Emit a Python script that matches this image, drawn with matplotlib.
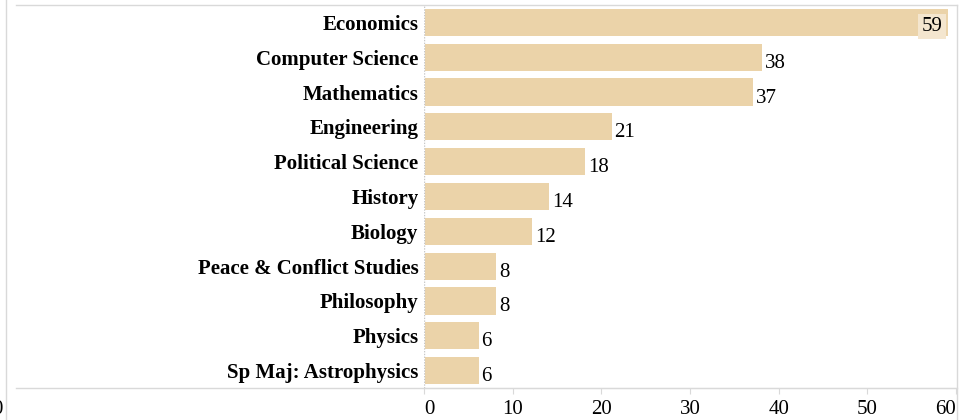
import matplotlib
matplotlib.use("Agg")
import matplotlib.pyplot as plt
from matplotlib.lines import Line2D

# --- data ---
majors = ["Economics", "Computer Science", "Mathematics", "Engineering",
          "Political Science", "History", "Biology", "Peace & Conflict Studies",
          "Philosophy", "Physics", "Sp Maj: Astrophysics"]
counts = [59, 38, 37, 21, 18, 14, 12, 8, 8, 6, 6]
xticks = [0, 10, 20, 30, 40, 50, 60]

bar_color = "#EBD3A9"
grid_color = "#D9D9D9"
W, H = 977, 420

plt.rcParams['font.family'] = ['Liberation Serif', 'DejaVu Serif']

fig = plt.figure(figsize=(W / 100, H / 100), dpi=100)
ax = fig.add_axes([424 / W, (H - 388) / H, (956 - 424) / W, (388 - 5) / H])

y = list(range(len(majors)))
ax.barh(y, counts, height=0.78, color=bar_color, left=0.15)
ax.set_ylim(len(majors) - 0.5, -0.5)
ax.set_xlim(0, 60)

for i, v in enumerate(counts):
    if v == max(counts):
        ax.annotate(str(v), (v + 0.15, i), xytext=(-6, -4), textcoords="offset pixels",
                    ha="right", va="center", fontsize=15,
                    bbox=dict(boxstyle="square,pad=0.15", fc="#F4E6CF", ec="none"))
    else:
        ax.annotate(str(v), (v + 0.15, i), xytext=(3, -6), textcoords="offset pixels",
                    ha="left", va="center", fontsize=15)

ax.set_yticks(y)
ax.set_yticklabels(majors, fontsize=15, fontweight="bold")
ax.tick_params(axis="y", length=0, pad=4)

ax.set_xticks(xticks)
ax.set_xticklabels([str(t) for t in xticks], fontsize=15)
ax.tick_params(axis="x", length=4, color=grid_color, pad=5)
labs = ax.get_xticklabels()
labs[0].set_horizontalalignment("left")
labs[-1].set_horizontalalignment("right")

for s in ["top", "right", "left"]:
    ax.spines[s].set_visible(False)
ax.spines["bottom"].set_color(grid_color)
ax.axvline(0, color="#C8C8C8", linestyle=(0, (1, 1)), linewidth=1)

# pane borders
fig.add_artist(Line2D([16 / W, 957 / W], [(H - 5) / H] * 2, color=grid_color, lw=1))
fig.add_artist(Line2D([16 / W, 957 / W], [(H - 388) / H] * 2, color=grid_color, lw=1))
fig.add_artist(Line2D([956.5 / W] * 2, [0, (H - 5) / H], color=grid_color, lw=1))
fig.add_artist(Line2D([5.5 / W] * 2, [0, 1], color=grid_color, lw=1))
fig.text(3 / W, (H - 409) / H, "0", ha="right", va="center", fontsize=15)

fig.savefig("out.png", dpi=100)
